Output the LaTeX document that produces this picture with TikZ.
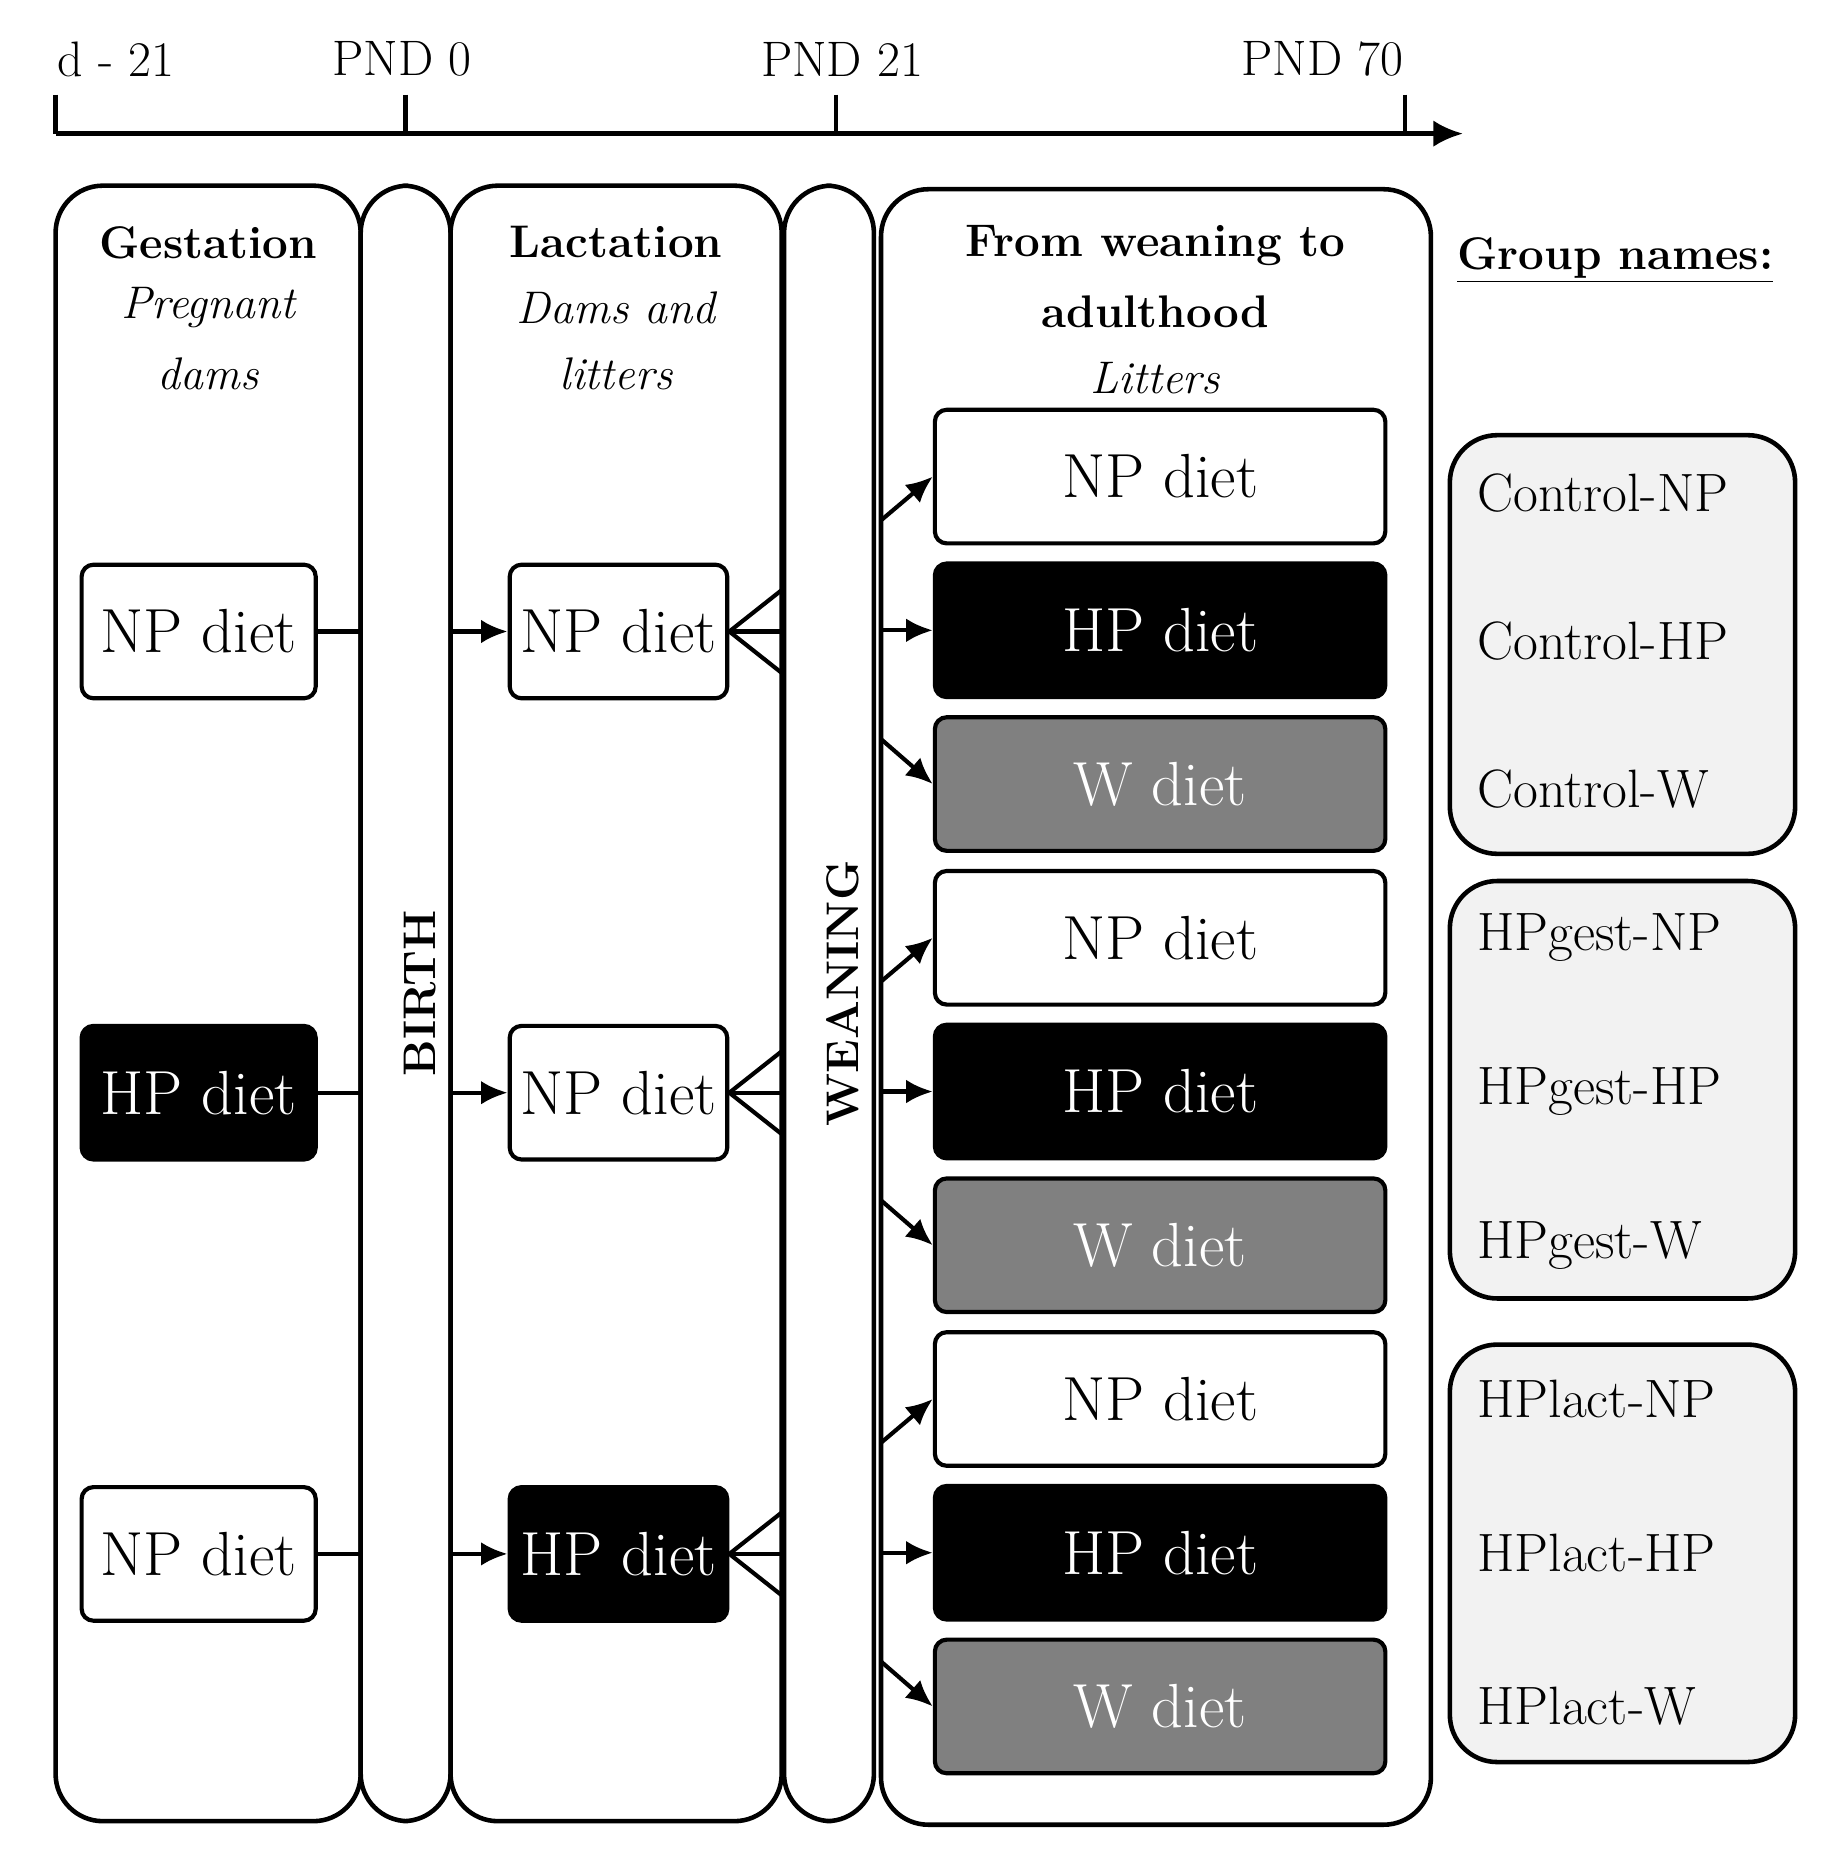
\documentclass[tikz,border=0pt]{standalone}
\usetikzlibrary{arrows.meta}
\begin{document}
\begin{tikzpicture}[x=0.02cm,y=-0.02cm,
 panel/.style={draw,line width=2.2pt,rounded corners=0.8cm},
 box/.style={draw,line width=2pt,rounded corners=0.2cm,minimum height=2.26cm,font=\fontsize{30}{36}\selectfont,inner sep=0pt},
 np/.style={box,fill=white,text=black},
 hp/.style={box,fill=black,text=white},
 w/.style={box,fill=black!50,text=white},
 grp/.style={draw,line width=2.2pt,rounded corners=0.8cm,fill=black!5},
 lab/.style={font=\fontsize{26}{30}\selectfont,anchor=west},
 hd/.style={font=\fontsize{22}{27}\selectfont\bfseries},
 it/.style={font=\fontsize{22}{27}\selectfont\itshape},
 ax/.style={font=\fontsize{24}{28}\selectfont},
 con/.style={line width=2pt},
 arr/.style={line width=2pt,-{Latex[length=0.45cm,width=0.4cm]}}]
\useasboundingbox (0,0) rectangle (1550,1572);
% axis
\coordinate (a0) at (47,113); \coordinate (a1) at (1237,113);
\draw[line width=2.2pt,-{Latex[length=0.5cm,width=0.45cm]}] (a0) -- (a1);
\foreach \x in {47,343,707,1188}{\draw[line width=2.2pt] (\x,80) -- (\x,113);}
\node[ax] (t1) at (98,50) {d - 21};
\node[ax] (t2) at (340,50) {PND 0};
\node[ax] (t3) at (712,50) {PND 21};
\node[ax] (t4) at (1118,50) {PND 70};
% panels
\draw[panel] (47,157) rectangle (305,1540);
\draw[panel] (305,157) rectangle (381,1540);
\draw[panel] (381,157) rectangle (661,1540);
\draw[panel] (663,157) rectangle (739,1540);
\draw[panel] (745,160) rectangle (1210,1543);
\node[hd] (h1) at (176,205) {Gestation};
\node[it] (h1a) at (176,260) {Pregnant};
\node[it] (h1b) at (176,316) {dams};
\node[hd] (h2) at (521,205) {Lactation};
\node[it] (h2a) at (521,260) {Dams and};
\node[it] (h2b) at (521,316) {litters};
\node[hd] (h3) at (977,208) {From weaning to};
\node[hd] (h3a) at (977,264) {adulthood};
\node[it] (h3b) at (977,320) {Litters};
\node[hd,rotate=90] (birth) at (355,840) {BIRTH};
\node[hd,rotate=90] (wean) at (713,840) {WEANING};
\node[hd] (gn) at (1366,220) {\underline{Group names:}};
% gestation & lactation rows
\foreach \y/\g/\l [count=\i] in {534/np/np,924/hp/np,1314/np/hp}{
 \node[\g,minimum width=3.96cm] (g\i) at (168,\y) {\ifnum\i=2 HP\else NP\fi\ diet};
 \node[\l,minimum width=3.68cm] (l\i) at (523,\y) {\ifnum\i=3 HP\else NP\fi\ diet};
 \coordinate (b\i) at (305,\y); \coordinate (c\i) at (381,\y);
 \draw[con] (g\i.east) -- (b\i);
 \draw[arr] (c\i) -- (l\i.west);
 \coordinate (f\i a) at (661,\y-35); \coordinate (f\i b) at (661,\y); \coordinate (f\i c) at (661,\y+35);
 \draw[con] (f\i a) -- (l\i.east) -- (f\i c); \draw[con] (l\i.east) -- (f\i b);
}
% right boxes
\foreach \y [count=\i] in {403,793,1183}{
 \node[np,minimum width=7.62cm] (n\i) at (981,\y) {NP diet};
 \node[hp,minimum width=7.62cm] (p\i) at (981,\y+130) {HP diet};
 \node[w,minimum width=7.62cm] (m\i) at (981,\y+260) {W diet};
 \coordinate (s\i a) at (745,\y+37); \coordinate (s\i b) at (745,\y+130); \coordinate (s\i c) at (745,\y+222);
 \draw[arr] (s\i a) -- (n\i.west);
 \draw[arr] (s\i b) -- (p\i.west);
 \draw[arr] (s\i c) -- (m\i.west);
}
% group boxes
\draw[grp] (1226,368) rectangle (1518,722);
\draw[grp] (1226,745) rectangle (1518,1098);
\draw[grp] (1226,1137) rectangle (1518,1490);
\node[lab] (q1) at (1243,417) {Control-NP};
\node[lab] (q2) at (1243,542) {Control-HP};
\node[lab] (q3) at (1243,667) {Control-W};
\node[lab] (q4) at (1243,793) {HPgest-NP};
\node[lab] (q5) at (1243,923) {HPgest-HP};
\node[lab] (q6) at (1243,1053) {HPgest-W};
\node[lab] (q7) at (1243,1183) {HPlact-NP};
\node[lab] (q8) at (1243,1313) {HPlact-HP};
\node[lab] (q9) at (1243,1443) {HPlact-W};
\end{tikzpicture}
\end{document}
